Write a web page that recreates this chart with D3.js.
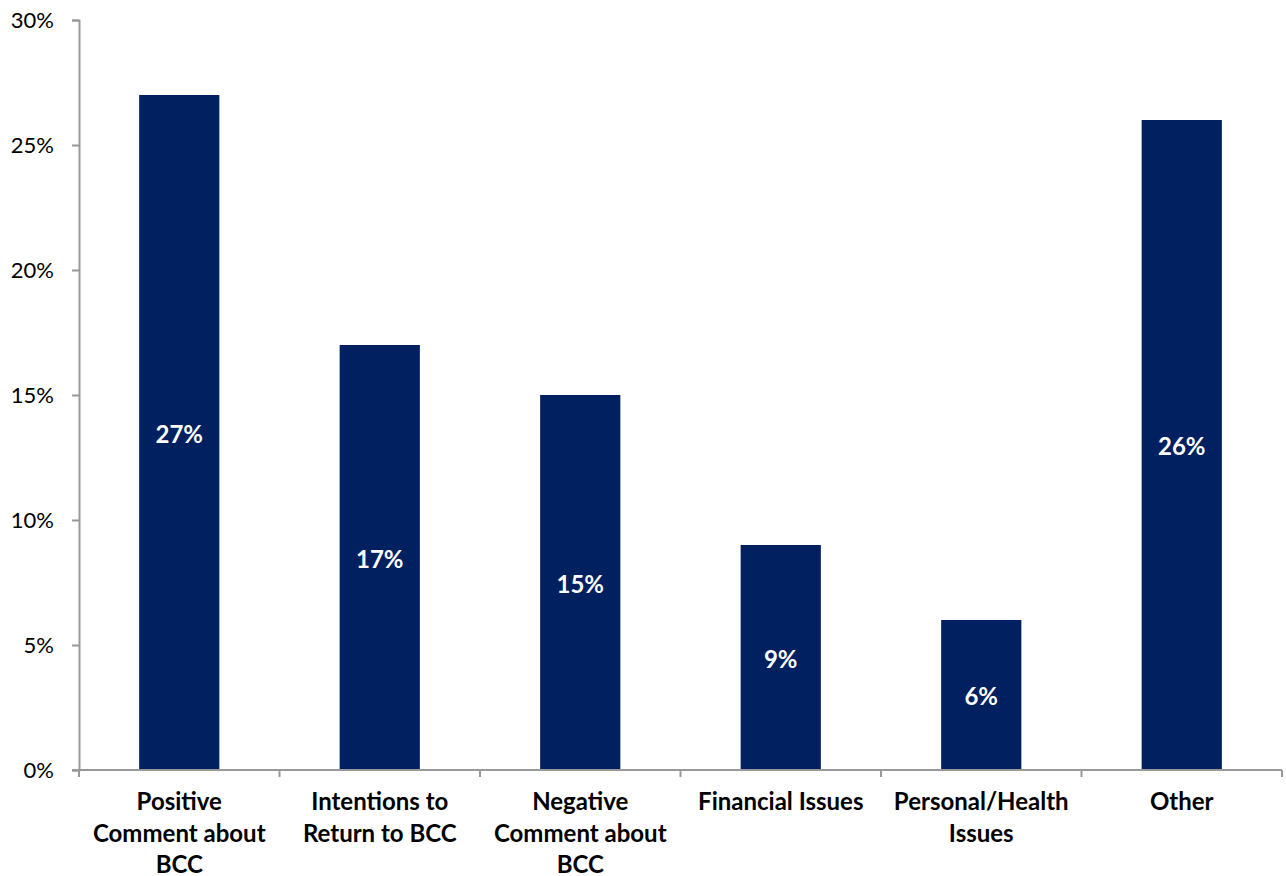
<!DOCTYPE html>
<html>
<head>
<meta charset="utf-8">
<script src="https://cdn.jsdelivr.net/npm/d3@7"></script>
<style>
  html, body { margin: 0; padding: 0; background: #fff; }
  svg text { font-family: Lato, "Open Sans", sans-serif; }
</style>
</head>
<body>
<div id="chart"></div>
<script>
// category labels, pre-wrapped the way the original shows them
var categories = [
  ['Positive', 'Comment about', 'BCC'],
  ['Intentions to', 'Return to BCC'],
  ['Negative', 'Comment about', 'BCC'],
  ['Financial Issues'],
  ['Personal/Health', 'Issues'],
  ['Other']
];
var values = [27, 17, 15, 9, 6, 26];
var yTicks = [0, 5, 10, 15, 20, 25, 30];

var width = 1286, height = 876;
var margin = { top: 20, right: 4, bottom: 106, left: 79 };

var svg = d3.select('#chart').append('svg')
  .attr('width', width)
  .attr('height', height);

var x = d3.scaleBand()
  .domain(d3.range(categories.length))
  .range([margin.left, width - margin.right])
  .paddingInner(0.6)
  .paddingOuter(0.3);

var y = d3.scaleLinear()
  .domain([0, 30])
  .range([height - margin.bottom, margin.top]);

// y axis
var yAxis = svg.append('g')
  .attr('transform', 'translate(' + margin.left + ',0)')
  .call(d3.axisLeft(y).tickValues(yTicks).tickSize(7).tickPadding(18)
    .tickFormat(function(d) { return d + '%'; }));
yAxis.select('.domain').attr('stroke', '#999').attr('stroke-width', 2);
yAxis.selectAll('.tick line').attr('stroke', '#999').attr('stroke-width', 2);
yAxis.selectAll('.tick text')
  .attr('font-size', '22px').attr('fill', '#000')
  .style('font-family', 'Lato, "Open Sans", sans-serif');

// bars
svg.append('g').selectAll('rect')
  .data(values)
  .join('rect')
  .attr('x', function(d, i) { return x(i); })
  .attr('y', function(d) { return y(d); })
  .attr('width', x.bandwidth())
  .attr('height', function(d) { return y(0) - y(d); })
  .attr('fill', '#002060');

// value labels inside bars
svg.append('g').selectAll('text')
  .data(values)
  .join('text')
  .attr('x', function(d, i) { return x(i) + x.bandwidth() / 2; })
  .attr('y', function(d) { return (y(d) + y(0)) / 2 + 2; })
  .attr('dy', '0.35em')
  .attr('text-anchor', 'middle')
  .attr('fill', '#fff')
  .attr('font-weight', 'bold')
  .attr('font-size', '24px')
  .text(function(d) { return d + '%'; });

// x axis line and ticks at band boundaries
var x0 = margin.left, x1 = width - margin.right;
var base = y(0);
svg.append('line')
  .attr('x1', x0 - 7).attr('x2', x1)
  .attr('y1', base).attr('y2', base)
  .attr('stroke', '#999').attr('stroke-width', 2);
svg.append('g').selectAll('line')
  .data(d3.range(categories.length + 1))
  .join('line')
  .attr('x1', function(i) { return x0 + i * (x1 - x0) / categories.length; })
  .attr('x2', function(i) { return x0 + i * (x1 - x0) / categories.length; })
  .attr('y1', base).attr('y2', base + 7)
  .attr('stroke', '#999').attr('stroke-width', 2);

// category labels
var lab = svg.append('g').selectAll('text')
  .data(categories)
  .join('text')
  .attr('text-anchor', 'middle')
  .attr('font-weight', 'bold')
  .attr('font-size', '24px')
  .attr('fill', '#000')
  .attr('transform', function(d, i) {
    return 'translate(' + (x(i) + x.bandwidth() / 2) + ',' + (base + 40) + ')';
  });
lab.selectAll('tspan')
  .data(function(d) { return d; })
  .join('tspan')
  .attr('x', 0)
  .attr('y', function(d, i) { return i * 31.5; })
  .text(function(d) { return d; });
</script>
</body>
</html>
